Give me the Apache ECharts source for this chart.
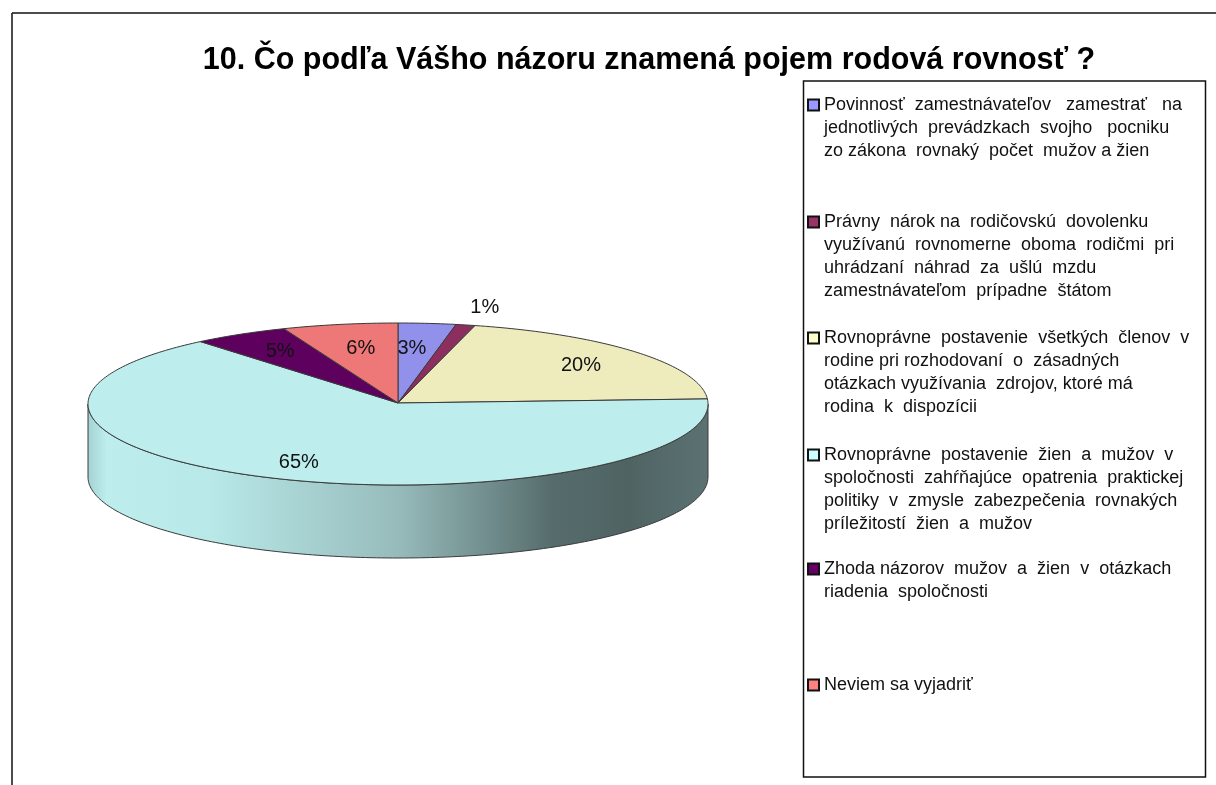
<!DOCTYPE html>
<html>
<head>
<meta charset="utf-8">
<style>html,body{margin:0;padding:0;background:#fff}#c{width:1216px;height:785px}</style>
<script src="https://cdn.jsdelivr.net/npm/echarts@6/dist/echarts.min.js"></script>
</head>
<body>
<div id="c"></div>
<script>
var chartTitle = '10. Čo podľa Vášho názoru znamená pojem rodová rovnosť ?';
var sliceValues = [3, 1, 20, 65, 5, 6];
var legendLines = [
  ['Povinnosť  zamestnávateľov   zamestrať   na', 'jednotlivých  prevádzkach  svojho   pocniku', 'zo zákona  rovnaký  počet  mužov a žien'],
  ['Právny  nárok na  rodičovskú  dovolenku', 'využívanú  rovnomerne  oboma  rodičmi  pri', 'uhrádzaní  náhrad  za  ušlú  mzdu', 'zamestnávateľom  prípadne  štátom'],
  ['Rovnoprávne  postavenie  všetkých  členov  v', 'rodine pri rozhodovaní  o  zásadných', 'otázkach využívania  zdrojov, ktoré má', 'rodina  k  dispozícii'],
  ['Rovnoprávne  postavenie  žien  a  mužov  v', 'spoločnosti  zahŕňajúce  opatrenia  praktickej', 'politiky  v  zmysle  zabezpečenia  rovnakých', 'príležitostí  žien  a  mužov'],
  ['Zhoda názorov  mužov  a  žien  v  otázkach', 'riadenia  spoločnosti'],
  ['Neviem sa vyjadriť']
];
var legendColors = ['#9999FF', '#993366', '#FFFFCC', '#CCFFFF', '#660066', '#FF8080'];
var faceColors = ['#9191EC', '#8C2F5F', '#EEEBBD', '#BDEDED', '#5E005E', '#EE7777'];
var wallStops = [
  [[0, '#5E5D4B'], [1, '#5E5D4B']],
  [[0, '#5E5D4B'], [1, '#5E5D4B']],
  [[0, '#5E5D4B'], [1, '#5E5D4B']],
  [[0, '#A5D2D2'], [0.03, '#BDEDED'], [0.2, '#B8E8E8'], [0.5, '#97BBBB'], [0.75, '#566C6C'], [0.87, '#4F6363'], [1, '#5C7272']],
  [[0, '#3A003A'], [1, '#3A003A']],
  [[0, '#803F3F'], [1, '#803F3F']]
];
// label anchor, as a fraction of the ellipse radii from the pie centre
var labelOffsets = [[0.045, -0.68], [0.28, -1.19], [0.59, -0.47], [-0.32, 0.72], [-0.38, -0.65], [-0.12, -0.68]];
var legendFirstLineY = [105, 222, 338, 455, 569, 685];

var pie = {cx: 398, cy: 404, rx: 310, ry: 81, depth: 73};
var LINE_H = 23;
var total = sliceValues.reduce(function (a, b) { return a + b; }, 0);
var names = legendLines.map(function (l) { return l.join(' ').replace(/\s+/g, ' '); });

function pt(deg, dy) {
  var r = deg * Math.PI / 180;
  return [pie.cx + pie.rx * Math.sin(r), pie.cy - pie.ry * Math.cos(r) + (dy || 0)];
}
function arc(a0, a1, dy) {
  var n = Math.max(2, Math.ceil(Math.abs(a1 - a0))), out = [];
  for (var i = 0; i <= n; i++) out.push(pt(a0 + (a1 - a0) * i / n, dy));
  return out;
}

function renderSlice(idx) {
  return function (params, api) {
    var before = sliceValues.slice(0, idx).reduce(function (a, b) { return a + b; }, 0);
    var v = api.value(0);
    var a0 = before / total * 360, a1 = (before + v) / total * 360;
    var kids = [];
    var w0 = Math.max(a0, 90), w1 = Math.min(a1, 270);
    if (w1 > w0) {
      kids.push({
        type: 'polygon',
        shape: {points: arc(w0, w1, 0).concat(arc(w1, w0, pie.depth))},
        style: {
          fill: {type: 'linear', x: pie.cx - pie.rx, y: 0, x2: pie.cx + pie.rx, y2: 0, global: true,
            colorStops: wallStops[idx].map(function (s) { return {offset: s[0], color: s[1]}; })},
          stroke: '#3a3a3a', lineWidth: 1
        }
      });
    }
    kids.push({
      type: 'polygon',
      shape: {points: [[pie.cx, pie.cy - 1]].concat(arc(a0, a1, 0))},
      style: {fill: faceColors[idx], stroke: '#3a3a3a', lineWidth: 1, lineJoin: 'round'}
    });
    return {type: 'group', children: kids};
  };
}
function renderLabel(idx) {
  return function (params, api) {
    var o = labelOffsets[idx];
    return {
      type: 'text',
      z2: 100,
      style: {
        text: api.value(0) + '%',
        x: pie.cx + o[0] * pie.rx, y: pie.cy + o[1] * pie.ry,
        align: 'center', verticalAlign: 'middle',
        fill: '#111', font: '20px "Liberation Sans", Arial, sans-serif'
      }
    };
  };
}

var series = names.map(function (name, i) {
  return {
    type: 'custom', name: name, coordinateSystem: 'none',
    renderItem: renderSlice(i), data: [sliceValues[i]],
    itemStyle: {color: legendColors[i]}, silent: true, z: 2
  };
}).concat(sliceValues.map(function (v, i) {
  return {
    type: 'custom', name: 'label' + i, coordinateSystem: 'none',
    renderItem: renderLabel(i), data: [v], silent: true, z: 5
  };
}));

var legends = names.map(function (name, i) {
  var n = legendLines[i].length;
  var blank = '';
  for (var k = 1; k < n; k++) blank += '\n';
  return {
    data: [{name: name, itemStyle: {color: legendColors[i], borderColor: '#111', borderWidth: 2}}],
    left: 807,
    top: legendFirstLineY[i] - (2 * n - 1) * LINE_H / 2,
    padding: 0,
    itemWidth: 11, itemHeight: 11,
    icon: 'rect',
    selectedMode: false,
    formatter: function () { return blank + legendLines[i].join('\n'); },
    textStyle: {color: '#111', fontFamily: '"Liberation Sans", Arial, sans-serif', fontSize: 18, lineHeight: LINE_H}
  };
});

var chart = echarts.init(document.getElementById('c'), null, {renderer: 'canvas'});
chart.setOption({
  animation: false,
  backgroundColor: '#fff',
  title: {
    text: chartTitle, left: 644, top: 40, textAlign: 'center',
    textStyle: {color: '#000', fontFamily: '"Liberation Sans", Arial, sans-serif', fontSize: 30.5, fontWeight: 'bold'}
  },
  tooltip: {show: false},
  legend: legends,
  series: series,
  graphic: [
    {type: 'line', silent: true, z: -1, shape: {x1: 12, y1: 13, x2: 1216, y2: 13}, style: {stroke: '#111', lineWidth: 1.5}},
    {type: 'line', silent: true, z: -1, shape: {x1: 12, y1: 13, x2: 12, y2: 785}, style: {stroke: '#111', lineWidth: 1.5}},
    {type: 'rect', silent: true, z: -1, shape: {x: 803.5, y: 81, width: 402, height: 696}, style: {fill: '#fff', stroke: '#111', lineWidth: 1.5}}
  ]
});
</script>
</body>
</html>
